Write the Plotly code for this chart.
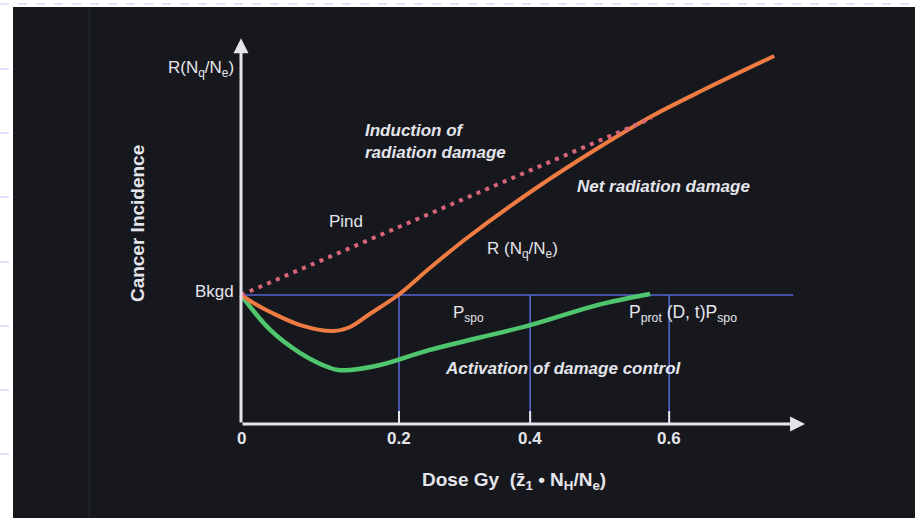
import plotly.graph_objects as go

# ---- data -----------------------------------------------------------------
# Dose axis ticks (the schematic axis is not drawn to scale)
tick_pos = [0.0, 0.2, 0.366, 0.542]
tick_labels = ["0", "0.2", "0.4", "0.6"]

# Background cancer incidence level
bkgd = 1.0

# Net radiation damage, R(Nq/Ne)
net_dose = [0.0, 0.018, 0.037, 0.075, 0.117, 0.138, 0.163, 0.199, 0.239,
            0.286, 0.370, 0.454, 0.518, 0.585, 0.675]
net_incidence = [1.0, 0.93, 0.868, 0.767, 0.721, 0.752, 0.853, 1.0, 1.209,
                 1.442, 1.814, 2.147, 2.38, 2.589, 2.853]

# Activation of damage control, Pprot(D, t) Pspo
ctrl_dose = [0.0, 0.037, 0.075, 0.113, 0.123, 0.138, 0.176, 0.239, 0.366,
             0.451, 0.518]
ctrl_incidence = [1.0, 0.729, 0.55, 0.434, 0.419, 0.419, 0.457, 0.574, 0.767,
                  0.922, 1.008]

# Induction of radiation damage, Pind
ind_dose = [0.0, 0.520]
ind_incidence = [1.0, 2.372]

# Axis extents
x_axis_end = 0.714
y_axis_end = 2.99
bkgd_line_end = 0.699

# ---- styling ----------------------------------------------------------------
BG = "#17181d"
FG = "#e4e5ec"
BLUE = "#5565cf"
ORANGE = "#ee7b42"
GREEN = "#4fc66e"
PINK = "#d8647a"
FONT = "Liberation Sans, Arial, sans-serif"

W, H = 915, 518
X0, SX = 241, 790.0   # pixel of dose 0, pixels per dose unit
Y0, SY = 424, 129.0   # pixel of incidence 0, pixels per incidence unit

fig = go.Figure()

# Background level and the dose gridlines
fig.add_trace(go.Scatter(x=[0, bkgd_line_end], y=[bkgd, bkgd], mode="lines",
                         line=dict(color=BLUE, width=1.6)))
for t in tick_pos[1:]:
    fig.add_trace(go.Scatter(x=[t, t], y=[0, bkgd], mode="lines",
                             line=dict(color=BLUE, width=1.6)))
    fig.add_trace(go.Scatter(x=[t, t], y=[0, 0.1], mode="lines",
                             line=dict(color=FG, width=2)))

# Curves
fig.add_trace(go.Scatter(x=ctrl_dose, y=ctrl_incidence, mode="lines",
                         line=dict(color=GREEN, width=4.5, shape="spline",
                                   smoothing=1.0)))
fig.add_trace(go.Scatter(x=net_dose, y=net_incidence, mode="lines",
                         line=dict(color=ORANGE, width=4, shape="spline",
                                   smoothing=1.0)))
fig.add_trace(go.Scatter(x=ind_dose, y=ind_incidence, mode="lines",
                         line=dict(color=PINK, width=4, dash="4px,5.5px")))

ann = []


def label(x, y, text, size=17, xanchor="left", **kw):
    ann.append(dict(x=x, y=y, xref="x", yref="y", text=text, showarrow=False,
                    xanchor=xanchor, yanchor="middle",
                    font=dict(family=FONT, size=size, color=FG), **kw))


# Axes with arrowheads
for tip, tail in [((x_axis_end, 0), (0, 0)), ((0, y_axis_end), (0, 0))]:
    ann.append(dict(x=tip[0], y=tip[1], ax=tail[0], ay=tail[1],
                    xref="x", yref="y", axref="x", ayref="y", text="",
                    showarrow=True, arrowhead=2, arrowsize=1, arrowwidth=3,
                    arrowcolor=FG, standoff=0))

# Tick labels
for t, s in zip(tick_pos, tick_labels):
    label(t, -0.109, "<b>%s</b>" % s, size=17, xanchor="center")

# Axis titles
label(0.3456, -0.44,
      "<b>Dose Gy  (z\u0304<sub>1</sub> \u2022 N<sub>H</sub>/N<sub>e</sub>)</b>",
      size=19, xanchor="center")
label(-0.1316, 1.55, "<b>Cancer Incidence</b>", size=19, xanchor="center",
      textangle=-90)
label(-0.006, 2.752, "R(N<sub>q</sub>/N<sub>e</sub>)", size=17, xanchor="right")
label(-0.006, 1.025, "Bkgd", size=17, xanchor="right")

# Curve annotations
label(0.1544, 2.19, "<b><i>Induction of<br>radiation damage</i></b>", size=17,
      align="left")
label(0.4228, 1.84, "<b><i>Net radiation damage</i></b>", size=17)
label(0.109, 1.57, "Pind", size=17)
label(0.309, 1.35, "R (N<sub>q</sub>/N<sub>e</sub>)", size=17)
label(0.266, 0.855, "P<sub>spo</sub>", size=17)
label(0.489, 0.855, "P<sub>prot</sub> (D, t)P<sub>spo</sub>", size=17.5)
label(0.2557, 0.43, "<b><i>Activation of damage control</i></b>", size=17)

# Frame: dark slide on a light page with faint guide lines
shapes = [dict(type="rect", xref="paper", yref="paper", x0=13 / W, x1=1,
               y0=0, y1=1 - 7 / H, fillcolor=BG, line=dict(width=0),
               layer="below")]
shapes.append(dict(type="line", xref="paper", yref="paper", x0=0, x1=1,
                   y0=1 - 4 / H, y1=1 - 4 / H,
                   line=dict(color="#c6cbf3", width=1.2, dash="dash"),
                   layer="below"))
for py in [69, 133, 197, 262, 326, 390, 454]:
    shapes.append(dict(type="line", xref="paper", yref="paper", x0=0,
                       x1=13 / W, y0=1 - py / H, y1=1 - py / H,
                       line=dict(color="#c6cbf3", width=1.2, dash="dash"),
                       layer="below"))
shapes.append(dict(type="line", xref="paper", yref="paper", x0=89 / W,
                   x1=89 / W, y0=0, y1=1 - 7 / H,
                   line=dict(color="#22242c", width=1.5), layer="below"))

fig.update_layout(
    width=W, height=H, autosize=False,
    margin=dict(l=0, r=0, t=0, b=0, pad=0),
    paper_bgcolor="white", plot_bgcolor="rgba(0,0,0,0)",
    showlegend=False, hovermode=False,
    xaxis=dict(range=[-X0 / SX, (W - X0) / SX], visible=False, fixedrange=True),
    yaxis=dict(range=[-(H - Y0) / SY, Y0 / SY], visible=False, fixedrange=True),
    annotations=ann, shapes=shapes,
)

fig.write_html("out.html")
